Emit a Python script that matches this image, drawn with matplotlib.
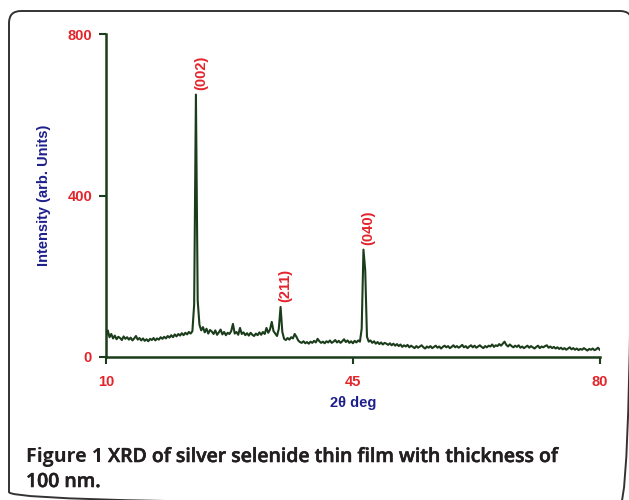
import numpy as np
import matplotlib
matplotlib.use("Agg")
import matplotlib.pyplot as plt
import matplotlib.patheffects as pe
from matplotlib.patches import FancyBboxPatch

# 2-theta scan, 0.25 deg steps from 10 to 80
two_theta = np.arange(10.0, 80.001, 0.25)
intensity = [
    52, 66, 49, 57, 46, 53, 44, 50, 47, 42, 51, 45, 49, 43, 48, 41, 46, 52, 43, 47,
    41, 46, 40, 44, 39, 45, 42, 47, 41, 46, 43, 49, 45, 50, 46, 52, 48, 54, 49, 56,
    51, 57, 53, 59, 54, 60, 56, 62, 58, 64, 130, 650, 140, 80, 66, 74, 61, 70, 58, 67,
    63, 57, 66, 55, 61, 68, 56, 62, 54, 60, 57, 64, 82, 58, 62, 55, 72, 57, 61, 54,
    59, 53, 60, 55, 52, 58, 54, 61, 55, 62, 57, 72, 60, 68, 87, 64, 58, 52, 70, 124,
    62, 45, 42, 47, 43, 49, 46, 57, 50, 41, 37, 35, 39, 34, 37, 33, 38, 35, 40, 36,
    45, 39, 35, 38, 34, 39, 36, 41, 35, 38, 42, 36, 40, 35, 39, 44, 37, 41, 35, 39,
    34, 40, 36, 41, 38, 70, 266, 215, 50, 38, 41, 35, 39, 33, 37, 32, 36, 31, 35, 33,
    30, 34, 29, 33, 28, 32, 27, 31, 25, 29, 26, 30, 24, 28, 25, 22, 27, 23, 26, 29,
    24, 21, 26, 23, 27, 22, 25, 28, 23, 26, 21, 25, 28, 24, 27, 22, 25, 29, 24, 27,
    23, 26, 30, 24, 27, 22, 26, 29, 24, 28, 23, 26, 29, 25, 22, 27, 24, 28, 26, 31,
    25, 29, 27, 32, 28, 33, 38, 30, 26, 31, 27, 24, 28, 25, 29, 23, 26, 22, 25, 28,
    23, 27, 24, 21, 25, 28, 22, 26, 24, 27, 29, 23, 26, 22, 25, 21, 24, 20, 23, 19,
    22, 18, 21, 24, 19, 22, 18, 21, 17, 20, 18, 22, 19, 16, 20, 18, 21, 17, 19, 23,
    18,
]
assert len(intensity) == len(two_theta)

peak_labels = ["(002)", "(211)", "(040)"]
peak_pos = [22.75, 34.75, 46.5]
peak_height = [650, 124, 266]

x_ticks = [10, 45, 80]
y_ticks = [0, 400, 800]

green = "#1b3d1b"
red = "#e3242b"
navy = "#1d1f8c"

plt.rcParams["font.family"] = ["Liberation Sans", "DejaVu Sans"]

fig = plt.figure(figsize=(6.29, 5.0), dpi=100)

# rounded frame around the whole figure
frame = fig.add_axes([0, 0, 1, 1])
frame.set_xlim(0, 629)
frame.set_ylim(500, 0)
frame.axis("off")
frame.add_patch(FancyBboxPatch((9, 11), 623, 493, boxstyle="round,pad=0,rounding_size=12",
                               fill=False, edgecolor="#333333", linewidth=1.4))

ax = fig.add_axes([0.1685, 0.286, 0.785, 0.646])
ax.plot(two_theta, intensity, color=green, linewidth=1.5)
ax.set_xlim(10, 80)
ax.set_ylim(0, 800)
ax.set_xticks(x_ticks)
ax.set_yticks(y_ticks)
for s in ["top", "right"]:
    ax.spines[s].set_visible(False)
for s in ["left", "bottom"]:
    ax.spines[s].set_color(green)
    ax.spines[s].set_linewidth(1.8)
ax.tick_params(axis="both", colors=green, length=5, width=1.5, labelsize=10.5,
               labelcolor=red)
ax.tick_params(axis="x", pad=8)
ax.tick_params(axis="y", pad=5)
for lab in ax.get_xticklabels() + ax.get_yticklabels():
    lab.set_fontweight("bold")

ax.set_xlabel("2θ deg", color=navy, fontsize=10.5, fontweight="bold", labelpad=5)
ax.set_ylabel("Intensity (arb. Units)", color=navy, fontsize=10.5, fontweight="bold",
              labelpad=12)

for lab, px, ph in zip(peak_labels, peak_pos, peak_height):
    ax.text(px + 0.7, ph + 12, lab, rotation=90, ha="center", va="bottom",
            color=red, fontsize=10.5, fontweight="bold")

# caption
cap_font = ["Open Sans", "DejaVu Sans"]
cap_col = "#231f20"
semi = [pe.withStroke(linewidth=0.4, foreground=cap_col)]
t1 = fig.text(26 / 629, 1 - 462 / 500, "Figure 1", family=cap_font, fontsize=14,
              fontweight="bold", color=cap_col, va="baseline")
fig.canvas.draw()
w = t1.get_window_extent().width / fig.bbox.width
fig.text(26 / 629 + w, 1 - 462 / 500, " XRD of silver selenide thin film with thickness of",
         family=cap_font, fontsize=14, fontweight="semibold", color=cap_col,
         va="baseline", path_effects=semi)
fig.text(26 / 629, 1 - 487 / 500, "100 nm.", family=cap_font, fontsize=14,
         fontweight="semibold", color=cap_col, va="baseline", path_effects=semi)

fig.savefig("out.png", dpi=100)
